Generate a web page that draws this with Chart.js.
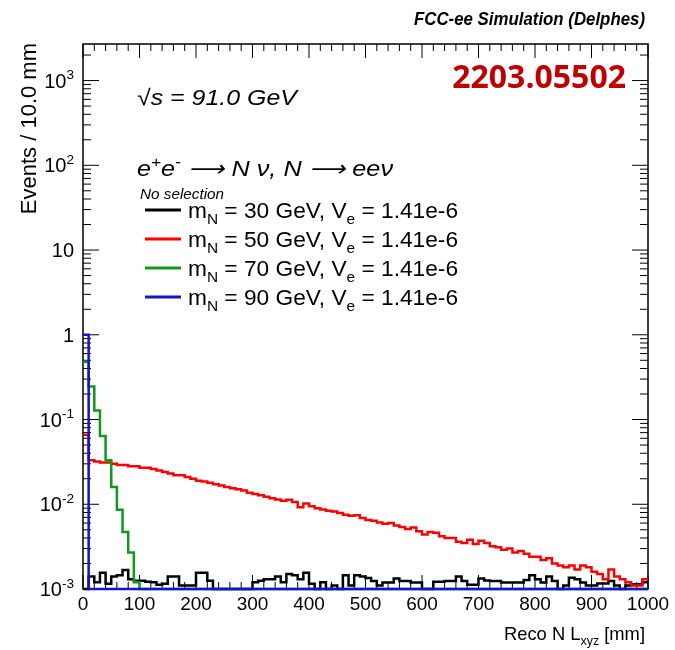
<!DOCTYPE html>
<html>
<head>
<meta charset="utf-8">
<script src="https://cdn.jsdelivr.net/npm/chart.js@4.4.1/dist/chart.umd.min.js"></script>
<style>
  html, body { margin: 0; padding: 0; background: #fff; }
  #wrap { width: 675px; height: 650px; position: relative; }
</style>
</head>
<body>
<div id="wrap"><canvas id="lxyz"></canvas></div>
<script>
// histogram binning and axis ranges
const BIN_WIDTH = 10;
const X_MIN = 0;
const X_MAX = 1000;
const Y_MIN = 1e-3;
const Y_MAX = 2700;

const xTickLabels = ["0", "100", "200", "300", "400", "500", "600", "700", "800", "900", "1000"];
const yTickExponents = [-3, -2, -1, 0, 1, 2, 3];

// events per 10 mm bin, 100 bins from 0 to 1000 mm (0 = empty bin)
const black30 = [
  0, 0.00140, 0.00120, 0.00155, 0.00115, 0.00140, 0.00145, 0.00168, 0.00130, 0.00125,
  0.00125, 0.00122, 0.00120, 0.00112, 0.00115, 0.00140, 0.00140, 0.00110, 0.00110, 0.00110,
  0.00155, 0.00155, 0.00125, 0, 0, 0, 0, 0, 0, 0,
  0.00120, 0.00125, 0.00130, 0.00130, 0.00140, 0.00120, 0.00150, 0.00145, 0.00130, 0.00155,
  0.00115, 0, 0.00120, 0, 0.00110, 0, 0.00145, 0.00110, 0.00145, 0.00140,
  0.00135, 0.00124, 0.00110, 0.00119, 0.00119, 0.00133, 0.00124, 0.00124, 0.00119, 0.00119,
  0, 0, 0.00122, 0.00122, 0.00124, 0.00124, 0.00140, 0.00124, 0.00112, 0.00112,
  0.00133, 0.00126, 0.00124, 0.00124, 0.00119, 0.00119, 0.00119, 0.00119, 0.00128, 0.00145,
  0.00130, 0.00119, 0.00140, 0.00124, 0, 0.00110, 0.00136, 0.00130, 0.00119, 0.00110,
  0.00110, 0.00116, 0.00116, 0.00124, 0.00110, 0, 0.00110, 0.00114, 0.00114, 0.00120
];
const red50 = [
  0.066, 0.033, 0.032, 0.031, 0.031, 0.030, 0.029, 0.029, 0.028, 0.028,
  0.027, 0.027, 0.026, 0.025, 0.024, 0.023, 0.022, 0.022, 0.021, 0.020,
  0.019, 0.0185, 0.018, 0.0172, 0.0167, 0.016, 0.0155, 0.015, 0.0145, 0.0137,
  0.0132, 0.0128, 0.0123, 0.0118, 0.0114, 0.0110, 0.0113, 0.0106, 0.0092, 0.0102,
  0.0095, 0.0090, 0.0087, 0.0084, 0.0082, 0.0079, 0.0075, 0.0073, 0.0074, 0.0069,
  0.0065, 0.0064, 0.0061, 0.0059, 0.0060, 0.0056, 0.0054, 0.0051, 0.0053, 0.0048,
  0.0044, 0.0047, 0.0046, 0.0042, 0.0040, 0.0040, 0.0036, 0.0035, 0.0038, 0.0034,
  0.0037, 0.0035, 0.0032, 0.0031, 0.0029, 0.0030, 0.0027, 0.0028, 0.0026, 0.0024,
  0.0024, 0.0022, 0.0023, 0.0020, 0.0019, 0.0018, 0.0019, 0.0017, 0.0019, 0.0018,
  0.0016, 0.0015, 0.0013, 0.0017, 0.0014, 0.0013, 0.0012, 0.0011, 0.0011, 0.0013
];
const green70 = [
  0.48, 0.245, 0.128, 0.064, 0.033, 0.016, 0.0086, 0.0047, 0.0027, 0.0012,
  0, 0, 0, 0, 0, 0, 0, 0, 0, 0,
  0, 0, 0, 0, 0, 0, 0, 0, 0, 0,
  0, 0, 0, 0, 0, 0, 0, 0, 0, 0,
  0, 0, 0, 0, 0, 0, 0, 0, 0, 0,
  0, 0, 0, 0, 0, 0, 0, 0, 0, 0,
  0, 0, 0, 0, 0, 0, 0, 0, 0, 0,
  0, 0, 0, 0, 0, 0, 0, 0, 0, 0,
  0, 0, 0, 0, 0, 0, 0, 0, 0, 0,
  0, 0, 0, 0, 0, 0, 0, 0, 0, 0
];
const blue90 = [
  1.0, 0, 0, 0, 0, 0, 0, 0, 0, 0,
  0, 0, 0, 0, 0, 0, 0, 0, 0, 0,
  0, 0, 0, 0, 0, 0, 0, 0, 0, 0,
  0, 0, 0, 0, 0, 0, 0, 0, 0, 0,
  0, 0, 0, 0, 0, 0, 0, 0, 0, 0,
  0, 0, 0, 0, 0, 0, 0, 0, 0, 0,
  0, 0, 0, 0, 0, 0, 0, 0, 0, 0,
  0, 0, 0, 0, 0, 0, 0, 0, 0, 0,
  0, 0, 0, 0, 0, 0, 0, 0, 0, 0,
  0, 0, 0, 0, 0, 0, 0, 0, 0, 0
];

const massLabels = ["30", "50", "70", "90"];
const seriesColors = ["#000000", "#ff0000", "#10991a", "#1414c8"];

const FONT = '"Liberation Sans", Arial, Helvetica, sans-serif';

// empty bins sit on the bottom of the frame like ROOT does on a log axis
function toSteps(values) {
  const pts = values.map((v, i) => ({ x: X_MIN + i * BIN_WIDTH, y: Math.max(v, Y_MIN) }));
  pts.push({ x: X_MAX, y: Math.max(values[values.length - 1], Y_MIN) });
  return pts;
}

function histDataset(label, values, color, order) {
  return {
    label: label,
    data: toSteps(values),
    borderColor: color,
    backgroundColor: color,
    borderWidth: 2.5,
    stepped: "before",
    pointRadius: 0,
    fill: false,
    clip: 3,
    order: order
  };
}

// text with sub/superscripts: parts = [[text, kind]], kind "", "sub" or "sup"
// fitW (optional) stretches the line horizontally to that width
function richWidth(ctx, parts, size, style) {
  let w = 0;
  parts.forEach(([t, kind]) => {
    const s = kind ? size * 0.68 : size;
    ctx.font = style + " " + s + "px " + FONT;
    w += ctx.measureText(t).width;
  });
  return w;
}

function drawRich(ctx, x, y, parts, size, style, align, fitW) {
  const natural = richWidth(ctx, parts, size, style);
  const sx = fitW ? fitW / natural : 1;
  const left = align === "right" ? x - natural * sx : x;
  ctx.save();
  ctx.translate(left, y);
  ctx.scale(sx, 1);
  ctx.textAlign = "left";
  ctx.textBaseline = "alphabetic";
  let cx = 0;
  parts.forEach(([t, kind]) => {
    const s = kind ? size * 0.68 : size;
    const dy = kind === "sub" ? size * 0.28 : kind === "sup" ? -size * 0.42 : 0;
    ctx.font = style + " " + s + "px " + FONT;
    ctx.fillText(t, cx, dy);
    cx += ctx.measureText(t).width;
  });
  ctx.restore();
}

function line(ctx, x1, y1, x2, y2) {
  ctx.beginPath();
  ctx.moveTo(x1, y1);
  ctx.lineTo(x2, y2);
  ctx.stroke();
}

const rootStyle = {
  id: "rootStyle",
  // frame and ticks go under the histograms, as in ROOT
  beforeDatasetsDraw(chart) {
    const ctx = chart.ctx;
    const a = chart.chartArea;
    const xs = chart.scales.x;
    const ys = chart.scales.y;
    ctx.save();
    ctx.strokeStyle = "#000";
    ctx.lineWidth = 1.5;
    ctx.strokeRect(a.left, a.top, a.right - a.left, a.bottom - a.top);

    ctx.lineWidth = 1;
    for (let v = X_MIN; v <= X_MAX; v += 20) {
      const px = xs.getPixelForValue(v);
      const len = v % 100 === 0 ? 14 : 7;
      line(ctx, px, a.bottom, px, a.bottom - len);
      line(ctx, px, a.top, px, a.top + len);
    }

    for (let e = -3; e <= 3; e++) {
      for (let m = 1; m <= 9; m++) {
        const v = m * Math.pow(10, e);
        if (v < Y_MIN || v > Y_MAX) continue;
        const py = ys.getPixelForValue(v);
        const len = m === 1 ? 16 : 8;
        line(ctx, a.left, py, a.left + len, py);
        line(ctx, a.right, py, a.right - len, py);
      }
    }
    ctx.restore();
  },
  afterDraw(chart) {
    const ctx = chart.ctx;
    const a = chart.chartArea;
    const ys = chart.scales.y;
    ctx.save();
    ctx.fillStyle = "#000";

    // y tick labels
    yTickExponents.forEach(e => {
      const py = ys.getPixelForValue(Math.pow(10, e));
      let parts;
      if (e === 0) parts = [["1", ""]];
      else if (e === 1) parts = [["10", ""]];
      else parts = [["10", ""], [String(e), "sup"]];
      drawRich(ctx, a.left - 9, py + 7, parts, 20, "", "right");
    });

    // axis titles
    ctx.save();
    ctx.translate(36, a.top - 1);
    ctx.rotate(-Math.PI / 2);
    ctx.font = "22px " + FONT;
    ctx.textAlign = "right";
    ctx.fillText("Events / 10.0 mm", 0, 0);
    ctx.restore();
    drawRich(ctx, 645, 640, [["Reco N L", ""], ["xyz", "sub"], [" [mm]", ""]], 19, "", "right", 141);

    // header and labels
    drawRich(ctx, 645, 25, [["FCC-ee Simulation (Delphes)", ""]], 19, "italic bold", "right", 231);

    ctx.fillStyle = "#c00000";
    ctx.font = 'bold 32px "Open Sans", ' + FONT;
    ctx.textAlign = "right";
    ctx.fillText("2203.05502", 626, 88);
    ctx.fillStyle = "#000";

    drawRich(ctx, 137, 105, [["\u221As = 91.0 GeV", ""]], 22, "italic", "left", 160);
    drawRich(ctx, 137, 176, [["e", ""], ["+", "sup"], ["e", ""], ["-", "sup"],
      [" \u27F6 N \u03BD, N \u27F6 ee\u03BD", ""]], 22, "italic", "left", 256);
    drawRich(ctx, 140, 199, [["No selection", ""]], 14, "italic", "left", 84);

    // legend
    const rows = [210, 239, 268, 297];
    massLabels.forEach((m, i) => {
      ctx.strokeStyle = seriesColors[i];
      ctx.lineWidth = 3;
      line(ctx, 145, rows[i], 181, rows[i]);
      ctx.fillStyle = "#000";
      drawRich(ctx, 188, rows[i] + 8, [["m", ""], ["N", "sub"], [" = " + m + " GeV, V", ""],
        ["e", "sub"], [" = 1.41e-6", ""]], 22, "", "left", 270);
    });
    ctx.restore();
  }
};

const canvas = document.getElementById("lxyz");
const ctx = canvas.getContext("2d");

new Chart(ctx, {
  type: "line",
  data: {
    datasets: [
      histDataset("m_N = 30 GeV", black30, seriesColors[0], 4),
      histDataset("m_N = 50 GeV", red50, seriesColors[1], 3),
      histDataset("m_N = 70 GeV", green70, seriesColors[2], 2),
      histDataset("m_N = 90 GeV", blue90, seriesColors[3], 1)
    ]
  },
  options: {
    responsive: true,
    maintainAspectRatio: false,
    animation: false,
    layout: { padding: { left: 0, right: 27, top: 44, bottom: 0 } },
    plugins: {
      legend: { display: false },
      tooltip: { enabled: false }
    },
    scales: {
      x: {
        type: "linear",
        min: X_MIN,
        max: X_MAX,
        grid: { display: false, drawTicks: false },
        border: { display: false },
        ticks: {
          stepSize: 100,
          autoSkip: false,
          maxRotation: 0,
          padding: 4,
          color: "#000",
          font: { family: FONT, size: 19 },
          callback: (v, i) => xTickLabels[i]
        },
        afterFit: s => { s.height = 61; }
      },
      y: {
        type: "logarithmic",
        min: Y_MIN,
        max: Y_MAX,
        grid: { display: false, drawTicks: false },
        border: { display: false },
        ticks: { display: false },
        afterFit: s => { s.width = 83; }
      }
    }
  },
  plugins: [rootStyle]
});
</script>
</body>
</html>
